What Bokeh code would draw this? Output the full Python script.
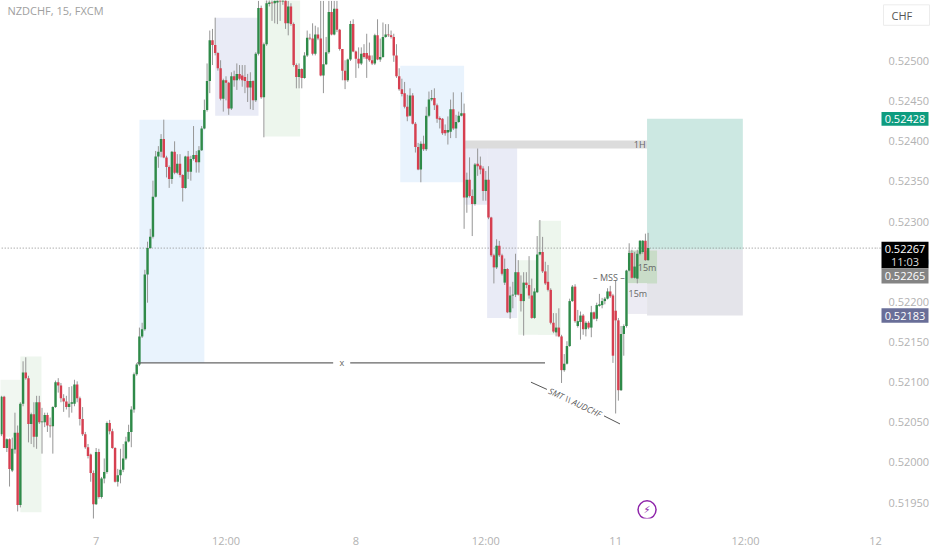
from bokeh.plotting import figure
from bokeh.layouts import row
from bokeh.models import ColumnDataSource, Label, FixedTicker, Range1d
from bokeh.core.properties import value
from bokeh.embed import file_html
from bokeh.resources import INLINE

# prices in points (1 point = 0.00001 CHF); bars are 15-minute bars, bar 0 = start of day "7"
opens = [52035,52082,52018,52029,51990,52016,52037,51947,52073,52112,
52105,52048,52060,52032,52075,52050,52050,52059,52046,52045,
52069,52100,52096,52080,52076,52069,52073,52073,52097,52080,
52054,52035,52019,52010,51987,51948,52013,51957,51980,51988,
52049,52039,52018,51976,51984,51991,52005,52026,52038,52066,
52110,52122,52157,52166,52234,52267,52281,52331,52381,52387,
52403,52380,52368,52353,52387,52361,52372,52358,52342,52381,
52362,52378,52383,52374,52389,52416,52439,52475,52526,52520,
52510,52491,52453,52476,52473,52441,52481,52476,52484,52482,
52480,52475,52467,52475,52451,52509,52566,52455,52521,52571,
52573,52572,52573,52576,52574,52580,52547,52568,52546,52495,
52480,52490,52479,52507,52529,52528,52509,52533,52528,52482,
52496,52511,52561,52533,52565,52539,52515,52488,52476,52502,
52546,52512,52503,52497,52510,52510,52507,52501,52497,52532,
52502,52505,52530,52533,52532,52530,52507,52481,52465,52460,
52443,52432,52457,52422,52393,52365,52397,52390,52432,52452,
52454,52445,52429,52428,52414,52411,52412,52440,52416,52424,
52432,52435,52330,52352,52332,52322,52372,52370,52366,52338,
52352,52305,52258,52243,52270,52258,52224,52241,52187,52208,
52209,52237,52210,52201,52224,52221,52208,52180,52212,52259,
52262,52238,52225,52215,52174,52162,52168,52157,52115,52123,
52145,52201,52219,52170,52175,52183,52166,52174,52168,52187,
52179,52195,52196,52201,52204,52213,52208,52189,52177,52090,
52160,52170,52239,52261,52230,52229,52260,52262,52276,52252]
highs = [52083,52083,52030,52030,52031,52062,52046,52075,52126,52131,
52108,52062,52075,52083,52083,52068,52062,52062,52056,52070,
52102,52105,52099,52085,52083,52094,52095,52103,52101,52082,
52069,52038,52023,52011,51990,52018,52017,51982,52005,52051,
52053,52042,52019,51992,52017,52023,52032,52047,52070,52112,
52124,52168,52174,52240,52275,52291,52351,52388,52394,52409,
52427,52382,52370,52388,52400,52384,52384,52359,52382,52388,
52382,52419,52388,52394,52419,52452,52497,52538,52540,52554,
52511,52501,52478,52481,52474,52486,52488,52497,52495,52495,
52495,52484,52486,52476,52511,52575,52569,52523,52577,52578,
52577,52580,52580,52580,52590,52590,52575,52572,52548,52497,
52497,52491,52511,52538,52534,52547,52544,52542,52575,52575,
52530,52575,52575,52575,52575,52540,52515,52501,52503,52550,
52552,52513,52517,52517,52521,52534,52523,52507,52534,52552,
52528,52548,52546,52546,52538,52534,52521,52491,52478,52474,
52458,52466,52460,52424,52398,52400,52407,52443,52462,52464,
52466,52447,52431,52429,52421,52431,52452,52461,52433,52437,
52461,52447,52361,52380,52340,52373,52391,52381,52369,52363,
52369,52306,52260,52278,52276,52260,52254,52242,52219,52225,
52260,52252,52233,52237,52237,52257,52229,52217,52282,52302,
52281,52250,52246,52217,52186,52186,52192,52159,52135,52151,
52204,52221,52222,52190,52188,52185,52176,52176,52195,52188,
52199,52210,52205,52206,52217,52220,52210,52227,52180,52170,
52172,52240,52273,52265,52262,52265,52277,52277,52285,52286]
lows = [52033,52018,52013,51970,51988,52011,51939,51944,52070,52103,
52025,52023,52019,52017,52048,52011,52044,52038,52031,52011,
52068,52087,52075,52063,52066,52056,52062,52070,52075,52046,
52033,52017,52005,51976,51926,51947,51955,51955,51974,51986,
52035,52017,51975,51970,51974,51988,52003,52025,52019,52062,
52108,52120,52155,52164,52199,52266,52279,52330,52367,52380,
52379,52355,52342,52347,52359,52359,52355,52325,52341,52353,
52351,52376,52361,52361,52388,52415,52437,52460,52495,52507,
52488,52451,52437,52451,52433,52439,52468,52464,52476,52468,
52460,52449,52440,52439,52449,52507,52453,52405,52519,52568,
52550,52547,52546,52550,52570,52540,52532,52544,52493,52466,
52466,52466,52478,52505,52526,52507,52507,52526,52481,52460,
52495,52509,52532,52532,52536,52513,52476,52465,52474,52500,
52511,52479,52491,52495,52503,52479,52499,52495,52495,52501,
52499,52504,52529,52530,52528,52499,52479,52463,52456,52441,
52425,52431,52421,52386,52364,52349,52388,52388,52430,52450,
52439,52423,52416,52408,52407,52396,52404,52414,52404,52423,
52431,52291,52311,52330,52282,52320,52357,52359,52326,52326,
52303,52256,52223,52241,52256,52233,52221,52186,52179,52192,
52206,52208,52188,52158,52217,52204,52179,52179,52211,52258,
52236,52221,52213,52172,52161,52157,52156,52099,52113,52122,
52144,52200,52174,52168,52153,52159,52157,52166,52156,52178,
52176,52194,52192,52197,52203,52205,52124,52061,52077,52089,
52133,52168,52238,52229,52229,52223,52258,52260,52251,52251]
closes = [52082,52018,52029,51992,52017,52037,51947,52073,52112,52105,
52048,52060,52032,52075,52050,52051,52059,52046,52045,52069,
52100,52096,52080,52076,52069,52073,52075,52097,52080,52054,
52035,52019,52008,51987,51948,52013,51957,51980,51988,52049,
52039,52018,51976,51984,51991,52005,52026,52038,52066,52110,
52122,52157,52166,52234,52267,52281,52331,52381,52387,52403,
52380,52368,52353,52387,52361,52372,52358,52342,52381,52362,
52378,52383,52374,52389,52416,52439,52475,52526,52520,52510,
52491,52453,52476,52473,52441,52481,52476,52484,52478,52476,
52475,52467,52475,52451,52509,52566,52455,52521,52572,52573,
52572,52575,52576,52574,52580,52547,52568,52546,52495,52480,
52490,52479,52507,52529,52528,52509,52533,52528,52482,52496,
52511,52561,52533,52565,52539,52515,52488,52476,52502,52546,
52512,52503,52497,52509,52505,52503,52501,52497,52532,52502,
52505,52530,52533,52532,52530,52507,52481,52465,52459,52443,
52431,52457,52422,52393,52365,52397,52390,52432,52452,52454,
52445,52428,52427,52410,52410,52414,52440,52416,52424,52432,
52435,52330,52352,52332,52322,52371,52369,52365,52338,52352,
52305,52258,52243,52270,52258,52235,52241,52187,52208,52209,
52237,52209,52201,52224,52221,52208,52180,52213,52259,52262,
52238,52223,52215,52174,52163,52168,52157,52115,52123,52145,
52201,52219,52176,52176,52183,52166,52174,52168,52187,52179,
52196,52197,52201,52204,52213,52207,52133,52177,52090,52160,
52170,52239,52261,52230,52244,52260,52276,52276,52252,52267]
first_bar = -35

# annotation zones: bar start, bar end, low price, high price, colour
zone_left = [-36, -28, 16, 44, 62.2, 112.4, 136.4, 144.5, 156, 163.3]
zone_right = [-28, -20.2, 40, 60, 75.4, 136, 144.5, 155.6, 171.8, 171.8]
zone_low = [52032, 51938, 52124, 52432, 52406, 52349, 52321, 52180, 52159, 52159]
zone_high = [52103, 52132, 52427, 52554, 52580, 52494, 52392, 52392, 52252, 52301]
zone_color = ["#f1f7f1", "#eef6ee", "#e9f3fd", "#e9ebf6", "#edf6ed", "#e9f3fd",
              "#e9ebf6", "#e9ebf6", "#edf6ed", "#edf6ed"]

trade_left = [136.4, 203.6, 203.6, 196.6, 196.6]
trade_right = [203.6, 239, 239, 207.3, 203.6]
trade_low = [52391, 52265, 52183, 52223, 52185]
trade_high = [52401, 52428, 52265, 52264, 52223]
trade_color = ["#dcdcdc", "#cce8e2", "#e4e4ea", "#c9dcc8", "#ecebf3"]

note_bar = [200.9, 200.2, 203.6, 189.5, 90.8]
note_price = [52396, 52211, 52243, 52231, 52124]
note_text = ["1H", "15m", "15m", "– MSS –", "x"]

tick_bars = [0, 48, 96, 144, 192, 240, 288]
tick_names = ["7", "12:00", "8", "12:00", "11", "12:00", "12"]
price_ticks = list(range(51950, 52550, 50))
last_price = 52267

# price tags beside the axis
tag_low = [52419.5, 52242, 52223, 52174]
tag_high = [52436.5, 52275, 52242, 52192]
tag_color = ["#0e9c7f", "#000000", "#848484", "#696e98"]
tag_text = ["0.52428", "0.52267", "11:03", "0.52265", "0.52183"]
tag_text_price = [52428, 52266.5, 52250, 52232.5, 52183]
tag_text_color = ["#ffffff", "#ffffff", "#dddddd", "#ffffff", "#ffffff"]

n = len(opens)
bars = [first_bar + i for i in range(n)]
GREEN, RED = "#2f8a49", "#d63f50"
src = ColumnDataSource(dict(
    x=bars, o=opens, h=highs, l=lows, c=closes,
    top=[max(a, b) for a, b in zip(opens, closes)],
    bot=[min(a, b) for a, b in zip(opens, closes)],
    color=[GREEN if b >= a else RED for a, b in zip(opens, closes)],
))

FRAME_H = 522
AXIS_W = 56
p = figure(width=932, height=550, output_backend="svg", toolbar_location=None,
           x_range=(-35.34, 288.4), y_range=(51930.2, 52575.4),
           x_axis_location="below", y_axis_location="right",
           min_border_left=0, min_border_top=0, min_border_right=51, min_border_bottom=28,
           outline_line_color=None, background_fill_color="white")
p.grid.visible = False

font = value("Open Sans")
p.quad(left=zone_left, right=zone_right, bottom=zone_low, top=zone_high, color=zone_color, line_color=None)
p.quad(left=trade_left, right=trade_right, bottom=trade_low, top=trade_high, color=trade_color, line_color=None)

p.line([-36, 291], [last_price, last_price], line_color="#8a8a8a", line_width=1, line_dash="1 2")

p.segment("x", "h", "x", "l", source=src, line_color="#969696", line_width=1)
p.vbar("x", width=0.9, top="top", bottom="bot", source=src, fill_color="color", line_color=None)

# x-level line with gap around its label
p.multi_line(xs=[[15.2, 87.6], [93.9, 165.9]], ys=[[52124, 52124], [52124, 52124]], line_color="#666666", line_width=1.2)
# SMT bracket lines
p.multi_line(xs=[[160.7, 166.6], [187.7, 193.6]], ys=[[52100, 52091], [52058, 52048]], line_color="#555555", line_width=1)
p.text(note_bar, note_price, text=note_text, text_font=font, text_font_size="9px",
       text_color="#666666", text_align="center", text_baseline="middle")
p.text([177], [52075], text=["SMT \\\\ AUDCHF"], text_font=font, text_font_size="8.5px", text_font_style="italic",
       text_color="#555555", angle=-0.44, text_align="center", text_baseline="middle")

# lightning marker
p.scatter([203.6], [51941], size=18, marker="circle", fill_color="white", line_color="#8e24aa", line_width=1.5)
p.text([203.6], [51941], text=["⚡"], text_font=value("DejaVu Sans"), text_font_size="10px",
       text_color="#8e24aa", text_align="center", text_baseline="middle")

# axes
xa = p.xaxis[0]
xa.ticker = FixedTicker(ticks=tick_bars)
xa.major_label_overrides = dict(zip(tick_bars, tick_names))
ya = p.yaxis[0]
ya.ticker = FixedTicker(ticks=price_ticks)
ya.major_label_overrides = {t: f"0.{t}" for t in price_ticks}
for ax in (xa, ya):
    ax.axis_line_color = None
    ax.major_tick_line_color = None
    ax.minor_tick_line_color = None
    ax.major_label_text_color = "#b2b2b2"
    ax.major_label_text_font = "Open Sans"
    ax.major_label_text_font_size = "11px"
xa.major_label_standoff = 8
ya.major_label_standoff = 6

p.add_layout(Label(x=7, y=FRAME_H - 14, x_units="screen", y_units="screen", text="NZDCHF, 15, FXCM",
                   text_font="Open Sans", text_baseline="middle", text_font_size="11px",
                   text_font_style="normal", text_color="#a0a0a0"))

# transparent strip laid over the axis column: price tags and the currency button
t = figure(width=AXIS_W, height=550, output_backend="svg", toolbar_location=None,
           x_range=Range1d(932 - AXIS_W, 932), y_range=p.y_range,
           x_axis_location=None, y_axis_location=None,
           min_border_left=0, min_border_right=0, min_border_top=0, min_border_bottom=28,
           outline_line_color=None, background_fill_alpha=0, border_fill_alpha=0,
           margin=(0, 0, 0, -AXIS_W))
t.grid.visible = False
t.line([876, 881], [last_price, last_price], line_color="#8a8a8a", line_width=1, line_dash="1 2")
t.quad(left=[881] * 4, right=[928] * 4, bottom=tag_low, top=tag_high, color=tag_color, line_color=None)
t.text([904.5] * 5, tag_text_price, text=tag_text, text_font=font, text_font_size="11px",
       text_color=tag_text_color, text_align="center", text_baseline="middle")
t.quad(left=[883], right=[929], bottom=[52544.5], top=[52570], fill_color="white", line_color="#ececec")
t.text([891], [52557], text=["CHF"], text_font=font, text_font_size="11px", text_color="#555555",
       text_baseline="middle")

open("out.html", "w").write(file_html(row(p, t), INLINE))
